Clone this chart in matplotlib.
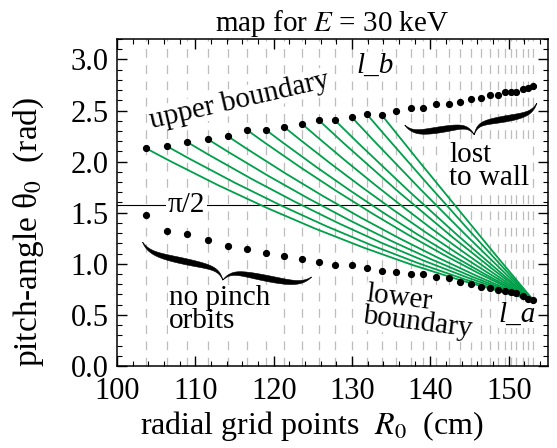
import numpy as np
import matplotlib
matplotlib.use("Agg")
import matplotlib.pyplot as plt
from matplotlib.path import Path
from matplotlib.patches import PathPatch, Polygon
from matplotlib.ticker import MultipleLocator

plt.rcParams["font.family"] = ["Liberation Serif", "DejaVu Serif"]
plt.rcParams["mathtext.fontset"] = "stix"

# radial grid points R0 (cm)
radius = [103.64, 106.32, 108.94, 111.56, 114.11, 116.60, 119.03, 121.33,
          123.63, 125.73, 127.78, 129.95, 131.86, 133.78, 135.66, 137.48,
          139.05, 140.77, 142.34, 143.74, 145.12, 146.39, 147.57, 148.63,
          149.49, 150.26, 150.98, 151.75, 152.47, 153.10]
# upper boundary pitch angle (rad)
upper = [2.133, 2.153, 2.192, 2.221, 2.250, 2.309, 2.309, 2.339, 2.368,
         2.407, 2.407, 2.436, 2.466, 2.456, 2.495, 2.527, 2.527, 2.561,
         2.561, 2.586, 2.613, 2.619, 2.652, 2.652, 2.684, 2.678, 2.678,
         2.710, 2.717, 2.743]
# lower boundary pitch angle (rad)
lower = [1.477, 1.324, 1.292, 1.233, 1.174, 1.142, 1.109, 1.081, 1.047,
         1.018, 0.993, 0.988, 0.959, 0.925, 0.923, 0.898, 0.898, 0.868,
         0.858, 0.825, 0.799, 0.776, 0.760, 0.744, 0.737, 0.727, 0.711,
         0.685, 0.653, 0.646]
# orbits l_b -> l_a: number of confined orbits and their sag below the chord (rad)
n_orbits = 14
orbit_sag = [0.14, 0.13, 0.12, 0.11, 0.10, 0.09, 0.08, 0.07, 0.06, 0.05,
             0.04, 0.03, 0.02, 0.01]

W, H = 557, 448
fig = plt.figure(figsize=(W / 100, H / 100), dpi=100)
ax = fig.add_axes([117 / W, (H - 366) / H, (548 - 117) / W, (366 - 39) / H])
ax.set_xlim(100, 155)
ax.set_ylim(0, 3.2)

# dashed grid at each radial point
for r in radius:
    ax.axvline(r, color="#bdbdbd", lw=0.9, ls=(0, (7, 6)), zorder=0)

ax.axhline(np.pi / 2, color="black", lw=0.8, zorder=1)

# orbits from upper boundary to l_a
end = (radius[-1], lower[-1])
for i in range(n_orbits):
    start = (radius[i], upper[i])
    ctrl = ((start[0] + end[0]) / 2, (start[1] + end[1]) / 2 - 2 * orbit_sag[i])
    path = Path([start, ctrl, end], [Path.MOVETO, Path.CURVE3, Path.CURVE3])
    ax.add_patch(PathPatch(path, fc="none", ec="#00a04a", lw=1.3, zorder=3))

ax.plot(radius, upper, "o", color="black", ms=4.2, zorder=5)
ax.plot(radius, lower, "o", color="black", ms=4.2, zorder=5)


def draw_brace(p0, p1, depth, thick=6):
    """tapered curly brace between two data points, tip to the right of p0->p1 (pixels)"""
    a, b = ax.transData.transform([p0, p1])
    d = b - a
    L = np.hypot(*d)
    t = d / L
    n = np.array([t[1], -t[0]])
    half = L / 2
    s = np.linspace(0, half, 120)
    yc = 0.5 * depth * (1 - np.exp(-s / (0.05 * L))) + 0.5 * depth * np.exp(-(half - s) / (0.035 * L))
    wid = thick * np.sin(np.pi * s / half) ** 0.6
    xs = np.concatenate([s, L - s[::-1]])
    ys = np.concatenate([yc, yc[::-1]])
    ws = np.concatenate([wid, wid[::-1]])
    top = np.column_stack([xs, ys - ws / 2])
    bot = np.column_stack([xs, ys + ws / 2])
    local = np.vstack([top, bot[::-1]])
    pts = a + np.outer(local[:, 0], t) + np.outer(local[:, 1], n)
    data = ax.transData.inverted().transform(pts)
    ax.add_patch(Polygon(data, closed=True, fc="black", ec="black", lw=0.4, zorder=4))


draw_brace((103.26, 1.213), (124.84, 0.871), 21)
draw_brace((136.72, 2.358), (153.58, 2.573), 21)

box = dict(fc="white", ec="none", pad=0.3)
fs = 21
ax.text(115.6, 2.60, "upper boundary", fontsize=fs, rotation=13,
        ha="center", va="center", bbox=box, zorder=2)
ax.text(132.9, 2.94, "l_b", fontsize=fs, style="italic",
        ha="center", va="center", bbox=box, zorder=2)
ax.text(142.4, 1.957, "lost\nto wall", fontsize=fs, ha="left", va="center",
        linespacing=0.85, bbox=box, zorder=2)
ax.text(108.9, 1.571, "π/2", fontsize=fs, ha="center", va="center",
        bbox=dict(fc="white", ec="none", pad=1.5), zorder=2)
ax.text(106.6, 0.55, "no pinch\norbits", fontsize=fs, ha="left", va="center",
        linespacing=0.85, bbox=box, zorder=2)
ax.text(138.6, 0.53, "lower\nboundary", fontsize=fs, rotation=-7,
        ha="center", va="center", multialignment="left", linespacing=0.85,
        bbox=box, zorder=2)
ax.text(151.0, 0.50, "l_a", fontsize=fs, style="italic",
        ha="center", va="center", bbox=box, zorder=2)

ax.set_title("map for $E$ = 30 keV", fontsize=21, pad=5)
ax.set_xlabel("radial grid points  $R_0$  (cm)", fontsize=23)
ax.set_ylabel("pitch-angle θ$_0$  (rad)", fontsize=24)
# label positions as in the reference (x label left of centre, y label below centre)
ax.xaxis.set_label_coords((312 - 117) / (548 - 117), -(409 - 366) / (366 - 39))
ax.yaxis.set_label_coords(-(117 - 46) / (548 - 117), (366 - 232) / (366 - 39))

ax.xaxis.set_major_locator(MultipleLocator(10))
ax.xaxis.set_minor_locator(MultipleLocator(2))
ax.yaxis.set_major_locator(MultipleLocator(0.5))
ax.yaxis.set_minor_locator(MultipleLocator(0.1))
ax.yaxis.set_major_formatter(lambda v, p: f"{v:.1f}")
ax.tick_params(which="both", direction="in", top=True, right=True, labelsize=22)
ax.tick_params(which="major", length=7, width=1.0)
ax.tick_params(axis="x", which="major", pad=8)
ax.tick_params(axis="y", which="major", pad=6)
ax.tick_params(which="minor", length=3.5, width=0.8)
for s in ax.spines.values():
    s.set_linewidth(1.1)

fig.savefig("out.png", dpi=100)
